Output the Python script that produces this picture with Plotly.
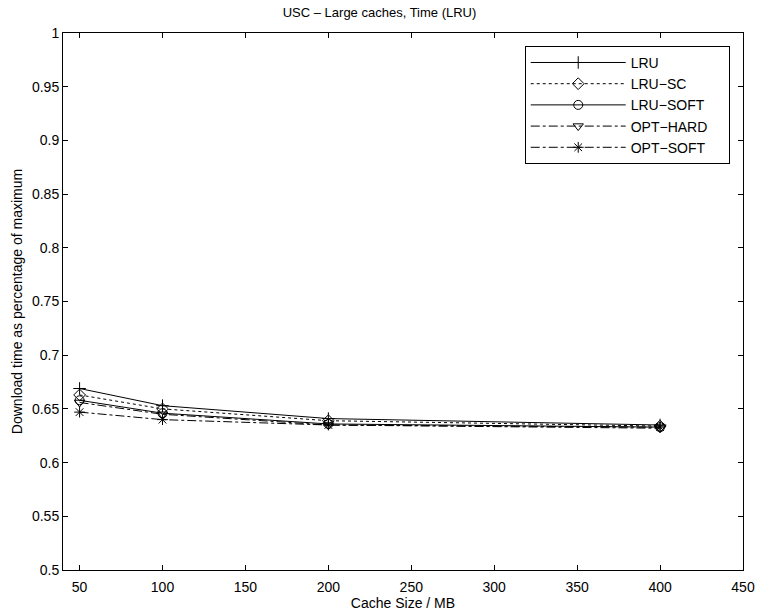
import plotly.graph_objects as go

cache_sizes = [50, 100, 200, 400]
lru = [0.669, 0.653, 0.641, 0.635]
lru_sc = [0.663, 0.650, 0.639, 0.634]
lru_soft = [0.658, 0.646, 0.636, 0.633]
opt_hard = [0.656, 0.645, 0.635, 0.632]
opt_soft = [0.647, 0.640, 0.635, 0.633]

series = [
    ("LRU", lru, "solid", "cross-thin-open"),
    ("LRU\u2212SC", lru_sc, "dot", "diamond-open"),
    ("LRU\u2212SOFT", lru_soft, "solid", "circle-open"),
    ("OPT\u2212HARD", opt_hard, "dashdot", "triangle-down-open"),
    ("OPT\u2212SOFT", opt_soft, "dashdot", "asterisk-open"),
]

yticks = [0.5, 0.55, 0.6, 0.65, 0.7, 0.75, 0.8, 0.85, 0.9, 0.95, 1]
yticklabels = ["0.5", "0.55", "0.6", "0.65", "0.7", "0.75", "0.8", "0.85", "0.9", "0.95", "1"]
xticks = [50, 100, 150, 200, 250, 300, 350, 400, 450]

fig = go.Figure()
for name, vals, dash, sym in series:
    fig.add_trace(go.Scatter(
        x=cache_sizes, y=vals, name=name + "\u00a0\u00a0\u00a0\u00a0", mode="lines+markers",
        line=dict(color="black", width=1, dash=dash),
        marker=dict(symbol=sym, size=9, color="black",
                    line=dict(color="black", width=1)),
    ))

font = "Liberation Sans, Arial, Helvetica, sans-serif"
axis_common = dict(
    showline=True, linecolor="black", linewidth=1, mirror="ticks",
    ticks="inside", ticklen=5, tickcolor="black", showgrid=False,
    zeroline=False, automargin=False,
    tickfont=dict(size=14, color="black", family=font),
)
fig.update_layout(
    width=759, height=614,
    margin=dict(l=63, r=16, t=33, b=44),
    paper_bgcolor="white", plot_bgcolor="white",
    title=dict(text="USC \u2013 Large caches, Time (LRU)", x=0.5, xanchor="center",
               y=0.98, yanchor="middle",
               font=dict(size=13, color="black", family=font)),
    font=dict(family=font, color="black"),
    xaxis=dict(range=[40, 450], tickvals=xticks, ticklabelstandoff=4,
               title=dict(text="Cache Size / MB", standoff=1,
                          font=dict(size=14, color="black", family=font)),
               **axis_common),
    yaxis=dict(range=[0.5, 1], tickvals=yticks, ticktext=yticklabels,
               title=dict(text="Download time as percentage of maximum", standoff=6,
                          font=dict(size=14, color="black", family=font)),
               **axis_common),
    legend=dict(x=0.679, y=0.976, xanchor="left", yanchor="top",
                bordercolor="black", borderwidth=1, bgcolor="white",
                itemwidth=95, tracegroupgap=0,
                font=dict(size=14, color="black", family=font)),
    showlegend=True,
)

fig.write_html("out.html")
